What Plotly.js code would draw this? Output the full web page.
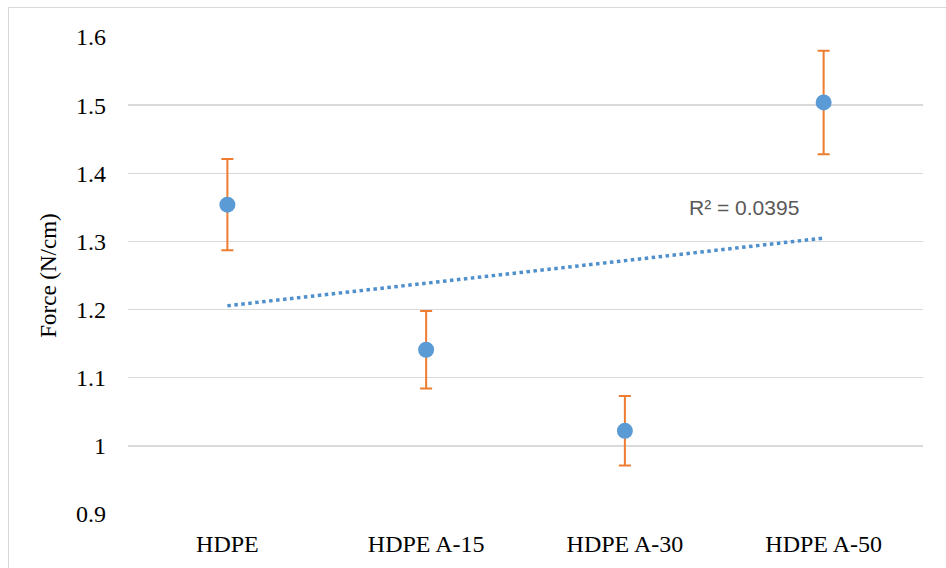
<!DOCTYPE html>
<html>
<head>
<meta charset="utf-8">
<script src="https://cdn.plot.ly/plotly-3.0.1.min.js"></script>
<style>
  html, body { margin: 0; padding: 0; background: #ffffff; overflow: hidden; }
  #frame { position: absolute; left: 8px; top: 7px; width: 1000px; height: 700px; border: 1.5px solid #d9d9d9; box-sizing: border-box; }
  #chart { position: absolute; left: 0; top: 0; width: 946px; height: 568px; }
</style>
</head>
<body>
<div id="frame"></div>
<div id="chart"></div>
<script>
const categories = ["HDPE", "HDPE A-15", "HDPE A-30", "HDPE A-50"];
const forceValues = [1.354, 1.141, 1.022, 1.504];
const forceErrors = [0.067, 0.057, 0.051, 0.076];
const yTickValues = [0.9, 1.0, 1.1, 1.2, 1.3, 1.4, 1.5, 1.6];
const yTickLabels = ["0.9", "1", "1.1", "1.2", "1.3", "1.4", "1.5", "1.6"];
const r2Label = "R² = 0.0395";

// linear least-squares trendline over category positions 1..n
const n = forceValues.length;
const xs = forceValues.map((_, i) => i + 1);
const mx = xs.reduce((a, b) => a + b, 0) / n;
const my = forceValues.reduce((a, b) => a + b, 0) / n;
let sxy = 0, sxx = 0;
for (let i = 0; i < n; i++) { sxy += (xs[i] - mx) * (forceValues[i] - my); sxx += (xs[i] - mx) ** 2; }
const slope = sxy / sxx;
const intercept = my - slope * mx;
const trendY = [intercept + slope * xs[0], intercept + slope * xs[n - 1]];
const trendX = [categories[0], categories[n - 1]];

const traces = [
  {
    type: "scatter", mode: "lines", x: trendX, y: trendY,
    line: { color: "#4f8fcc", width: 3.5, dash: "dot" },
    hoverinfo: "skip", showlegend: false
  },
  {
    type: "scatter", mode: "markers", x: categories, y: forceValues,
    marker: { color: "#5b9bd5", size: 16 },
    error_y: { type: "data", array: forceErrors, visible: true, color: "#ed7d31", thickness: 2, width: 6 },
    showlegend: false
  }
];

const layout = {
  width: 946, height: 568,
  margin: { l: 128, r: 23, t: 37, b: 54 },
  paper_bgcolor: "rgba(0,0,0,0)",
  plot_bgcolor: "rgba(0,0,0,0)",
  showlegend: false,
  xaxis: {
    type: "category", range: [-0.5, 3.5],
    categoryorder: "array", categoryarray: categories,
    showgrid: false, zeroline: false, showline: false, ticks: "",
    ticklabelstandoff: 13,
    tickfont: { family: "Liberation Serif, Times New Roman, serif", size: 24, color: "#000000" },
    fixedrange: true
  },
  yaxis: {
    range: [0.9, 1.6], tickvals: yTickValues, ticktext: yTickLabels,
    showgrid: true, gridcolor: "#d9d9d9", gridwidth: 1.5,
    zeroline: false, showline: false, ticks: "",
    ticklabelstandoff: 21,
    tickfont: { family: "Liberation Serif, Times New Roman, serif", size: 24, color: "#000000" },
    title: { text: "Force (N/cm)", standoff: 12, font: { family: "Liberation Serif, Times New Roman, serif", size: 23, color: "#000000" } },
    fixedrange: true
  },
  annotations: [
    {
      x: 2.6, y: 1.35, xref: "x", yref: "y", text: r2Label, showarrow: false,
      font: { family: "Liberation Sans, Arial, sans-serif", size: 21, color: "#595959" },
      xanchor: "center", yanchor: "middle"
    }
  ]
};

Plotly.newPlot("chart", traces, layout, { displayModeBar: false, staticPlot: true });
</script>
</body>
</html>
